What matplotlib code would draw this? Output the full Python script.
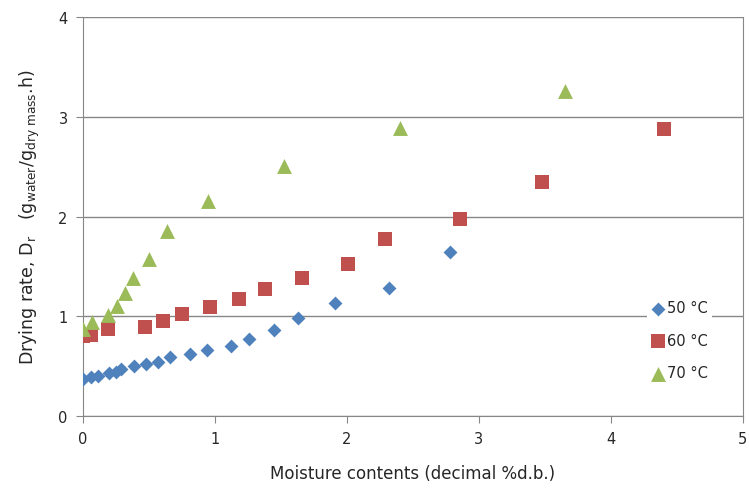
import matplotlib
matplotlib.use("Agg")
import matplotlib.pyplot as plt

plt.rcParams["mathtext.default"] = "regular"

# 50 C series
x50 = [0.0, 0.06, 0.11, 0.20, 0.25, 0.29, 0.39, 0.48, 0.57, 0.66, 0.81, 0.94,
       1.12, 1.26, 1.45, 1.63, 1.91, 2.32, 2.78]
y50 = [0.37, 0.39, 0.40, 0.43, 0.44, 0.47, 0.50, 0.52, 0.54, 0.59, 0.62, 0.66,
       0.70, 0.77, 0.86, 0.98, 1.13, 1.28, 1.64]

# 60 C series
x60 = [0.0, 0.06, 0.19, 0.47, 0.61, 0.75, 0.96, 1.18, 1.38, 1.66, 2.01, 2.29,
       2.86, 3.48, 4.40]
y60 = [0.80, 0.81, 0.87, 0.89, 0.95, 1.02, 1.09, 1.17, 1.27, 1.38, 1.52, 1.77,
       1.98, 2.35, 2.88]

# 70 C series
x70 = [0.0, 0.07, 0.19, 0.26, 0.32, 0.38, 0.50, 0.64, 0.95, 1.52, 2.40, 3.65]
y70 = [0.87, 0.94, 1.01, 1.10, 1.23, 1.38, 1.57, 1.85, 2.16, 2.51, 2.89, 3.26]

labels = ["50 \u00b0C", "60 \u00b0C", "70 \u00b0C"]

grid_c = "#878787"
txt_c = "#262626"

fig = plt.figure(figsize=(7.49, 4.89), dpi=100)
ax = fig.add_axes([0.1108, 0.1472, 0.881, 0.816])

ax.scatter(x50, y50, marker="D", s=50, color="#4F81BD", label=labels[0], zorder=3, linewidths=0)
ax.scatter(x60, y60, marker="s", s=100, color="#C0504D", label=labels[1], zorder=3, linewidths=0)
ax.scatter(x70, y70, marker="^", s=115, color="#9BBB59", label=labels[2], zorder=3, linewidths=0)

ax.set_xlim(0, 5)
ax.set_ylim(0, 4)
ax.set_xticks([0, 1, 2, 3, 4, 5])
ax.set_yticks([0, 1, 2, 3, 4])
ax.yaxis.grid(True, color=grid_c, linewidth=1)
ax.set_axisbelow(True)
for s in ax.spines.values():
    s.set_color(grid_c)
ax.spines["top"].set_visible(False)
ax.tick_params(axis="both", direction="out", length=5, color=grid_c,
               labelsize=10.5, labelcolor=txt_c, pad=6)

ax.set_xlabel("Moisture contents (decimal %d.b.)", fontsize=12, color=txt_c, labelpad=13)
ax.set_ylabel(r"Drying rate, D$_r$   (g$_{water}$/g$_{dry\ mass}$.h)", fontsize=12.5,
              color=txt_c, labelpad=12)

leg = ax.legend(loc="lower right", bbox_to_anchor=(0.965, 0.06), frameon=True,
                fontsize=10.5, handletextpad=0.1, labelspacing=1.2, borderpad=0.3,
                handlelength=1.0, scatterpoints=1)
leg.get_frame().set_edgecolor("none")
leg.get_frame().set_facecolor("white")
leg.get_frame().set_alpha(1)
leg.set_zorder(5)
for t in leg.get_texts():
    t.set_color(txt_c)

fig.savefig("out.png", dpi=100)
